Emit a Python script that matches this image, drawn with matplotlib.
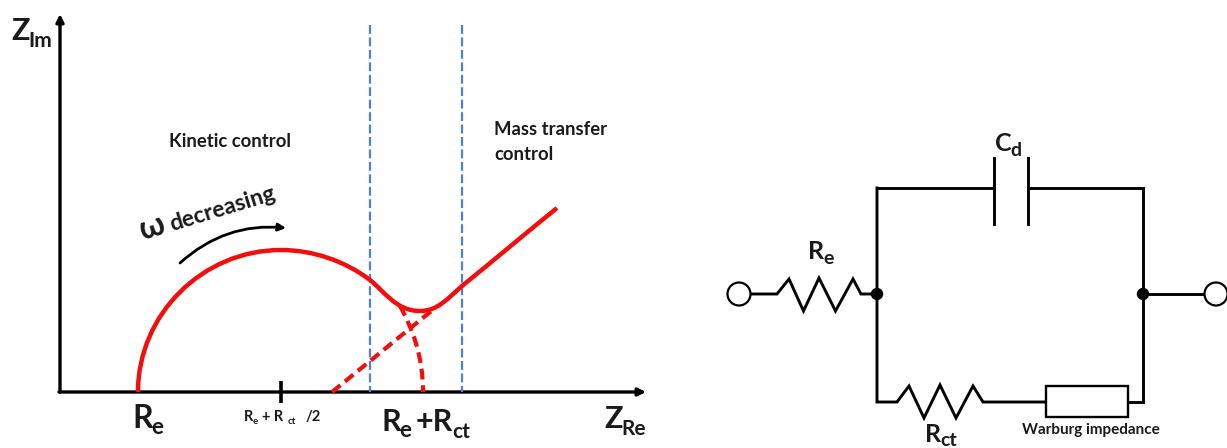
import matplotlib
matplotlib.use("Agg")
import matplotlib.pyplot as plt
from matplotlib.patches import Circle, FancyArrowPatch, PathPatch, Rectangle
from matplotlib.path import Path

plt.rcParams['font.family'] = ['Lato', 'DejaVu Sans']

# everything, in picture pixels
axis_origin = (60, 392)
y_axis_top = 14
x_axis_end = 646
tick_x = 281
tick_y = [381, 403]

guide_x = [370, 462]
guide_y = [25, 392]

# solid curve as bezier segments (anchor, ctrl, ctrl, anchor, ...)
curve_xy = [(138, 392),
            (138, 314), (203, 250), (281, 250),
            (313, 250), (345, 261), (370, 280),
            (384, 291), (396, 311), (420, 311),
            (438, 311), (448, 298), (462, 286),
            (494, 260), (526, 233), (557, 208)]
arc_dash_xy = [(400, 306), (412, 328), (423, 355), (423, 392)]
line_dash_x = [332, 435]
line_dash_y = [392, 308]

# circuit
wire_re_x = [749, 777, 789, 803.5, 819, 835.5, 853, 861, 877]
wire_re_y = [294, 294, 279, 311, 278, 311, 279, 294, 294]
wire_rct_x = [1143, 1143, 1127.5]
wire_rct_y = [294, 402, 402]
wire_low_x = [877, 877, 897, 909, 924, 940, 956, 973, 983, 1045.5]
wire_low_y = [188, 402, 402, 386, 418, 385, 418, 386, 402, 402]
wire_top_left_x = [877, 994]
wire_top_right_x = [1028, 1143, 1143]
wire_top_right_y = [188, 188, 294]
wire_out_x = [1143, 1204]
plate_x = [994, 1028]
plate_y = [158, 224]
box_x = [1045.5, 1127.5]
box_y = [386, 417]
node_x = [877, 1143]
node_y = 294
term_x = [739, 1216]
term_r = 11.5

red = '#f40d0d'
blue = '#4f7fcf'
ink = '#000000'
text_ink = '#1a1a1a'


def label(x, y, main, sub, size, sub_size, sub_dx, sub_dy=5):
    ax.text(x, y, main, fontsize=size, fontweight='bold', color=text_ink, ha='left', va='baseline')
    ax.text(x + sub_dx, y + sub_dy, sub, fontsize=sub_size, fontweight='bold', color=text_ink, ha='left', va='baseline')


def bez(xy):
    codes = [Path.MOVETO] + [Path.CURVE4] * (len(xy) - 1)
    return Path(xy, codes)


fig = plt.figure(figsize=(12.27, 4.48), dpi=100)
ax = fig.add_axes([0, 0, 1, 1])
ax.set_xlim(0, 1227)
ax.set_ylim(448, 0)
ax.axis('off')

# axes of the nyquist plot
ax.add_patch(FancyArrowPatch((axis_origin[0], axis_origin[1]), (axis_origin[0], y_axis_top), arrowstyle='-|>',
                             mutation_scale=11, lw=2.4, color=ink, shrinkA=0, shrinkB=0))
ax.add_patch(FancyArrowPatch((axis_origin[0] - 1, axis_origin[1]), (x_axis_end, axis_origin[1]), arrowstyle='-|>',
                             mutation_scale=11, lw=2.4, color=ink, shrinkA=0, shrinkB=0))
ax.plot([tick_x, tick_x], tick_y, color=ink, lw=2.6, solid_capstyle='butt')

for x in guide_x:
    ax.plot([x, x], guide_y, color=blue, lw=1.6, dashes=(4, 1.6), zorder=1)

ax.add_patch(PathPatch(bez(curve_xy), fc='none', ec=red, lw=3.2, zorder=3))
ax.add_patch(PathPatch(bez(arc_dash_xy), fc='none', ec=red, lw=3.0, ls=(0, (2.6, 1.4)), zorder=3))
ax.plot(line_dash_x, line_dash_y, color=red, lw=3.0, dashes=(2.6, 1.4), zorder=3)

# omega arrow
ax.add_patch(FancyArrowPatch((180, 263), (286, 228), connectionstyle='arc3,rad=-0.22', arrowstyle='-|>',
                             mutation_scale=11, lw=2.0, color=ink, shrinkA=0, shrinkB=0))
ax.text(143, 240, 'ω', fontsize=23, fontweight='bold', color=text_ink, rotation=17, rotation_mode='anchor')
ax.text(172, 231, 'decreasing', fontsize=16.5, fontweight='bold', color=text_ink, rotation=17, rotation_mode='anchor')

ax.text(169, 147, 'Kinetic control', fontsize=13.3, fontweight='bold', color=text_ink)
ax.text(494, 135, 'Mass transfer', fontsize=13.3, fontweight='bold', color=text_ink)
ax.text(494, 160, 'control', fontsize=13.3, fontweight='bold', color=text_ink)

label(11, 40, 'Z', 'Im', 22, 15, 17, 7)
label(604, 428, 'Z', 'Re', 22, 15, 17, 7)
label(132, 428, 'R', 'e', 23, 16, 19, 6)
label(244, 421, 'R', 'e', 10.5, 7, 9, 3)
ax.text(262, 421, '+ R', fontsize=10.5, fontweight='bold', color=text_ink)
ax.text(288, 424, 'ct', fontsize=7, fontweight='bold', color=text_ink)
ax.text(306, 421, '/2', fontsize=10.5, fontweight='bold', color=text_ink)
label(381, 431, 'R', 'e', 22, 16, 18, 6)
ax.text(416, 431, '+R', fontsize=22, fontweight='bold', color=text_ink)
ax.text(452, 438, 'ct', fontsize=15, fontweight='bold', color=text_ink)

# circuit
wire = dict(color=ink, lw=2.1, solid_joinstyle='miter')
ax.plot(wire_re_x, wire_re_y, **wire)
ax.plot(wire_low_x, wire_low_y, **wire)
ax.plot(wire_rct_x, wire_rct_y, **wire)
ax.plot(wire_top_left_x, [plate_y[0] + 30] * 2, **wire)
ax.plot(wire_top_right_x, wire_top_right_y, **wire)
ax.plot(wire_out_x, [node_y, node_y], **wire)
for x in plate_x:
    ax.plot([x, x], plate_y, **wire)
ax.add_patch(Rectangle((box_x[0], box_y[0]), box_x[1] - box_x[0], box_y[1] - box_y[0], fc='white', ec=ink, lw=1.7, zorder=3))
for x in node_x:
    ax.add_patch(Circle((x, node_y), 5.5, fc=ink, ec=ink, zorder=4))
for x in term_x:
    ax.add_patch(Circle((x, node_y), term_r, fc='white', ec=ink, lw=1.6, zorder=4))

label(995, 151, 'C', 'd', 18, 14, 15, 5)
label(808, 259, 'R', 'e', 18, 14, 15, 5)
label(925, 442, 'R', 'ct', 18, 14, 15, 4)
ax.text(1090.5, 434, 'Warburg impedance', fontsize=11, fontweight='bold', color=text_ink, ha='center')

fig.savefig('out.png', dpi=100)
